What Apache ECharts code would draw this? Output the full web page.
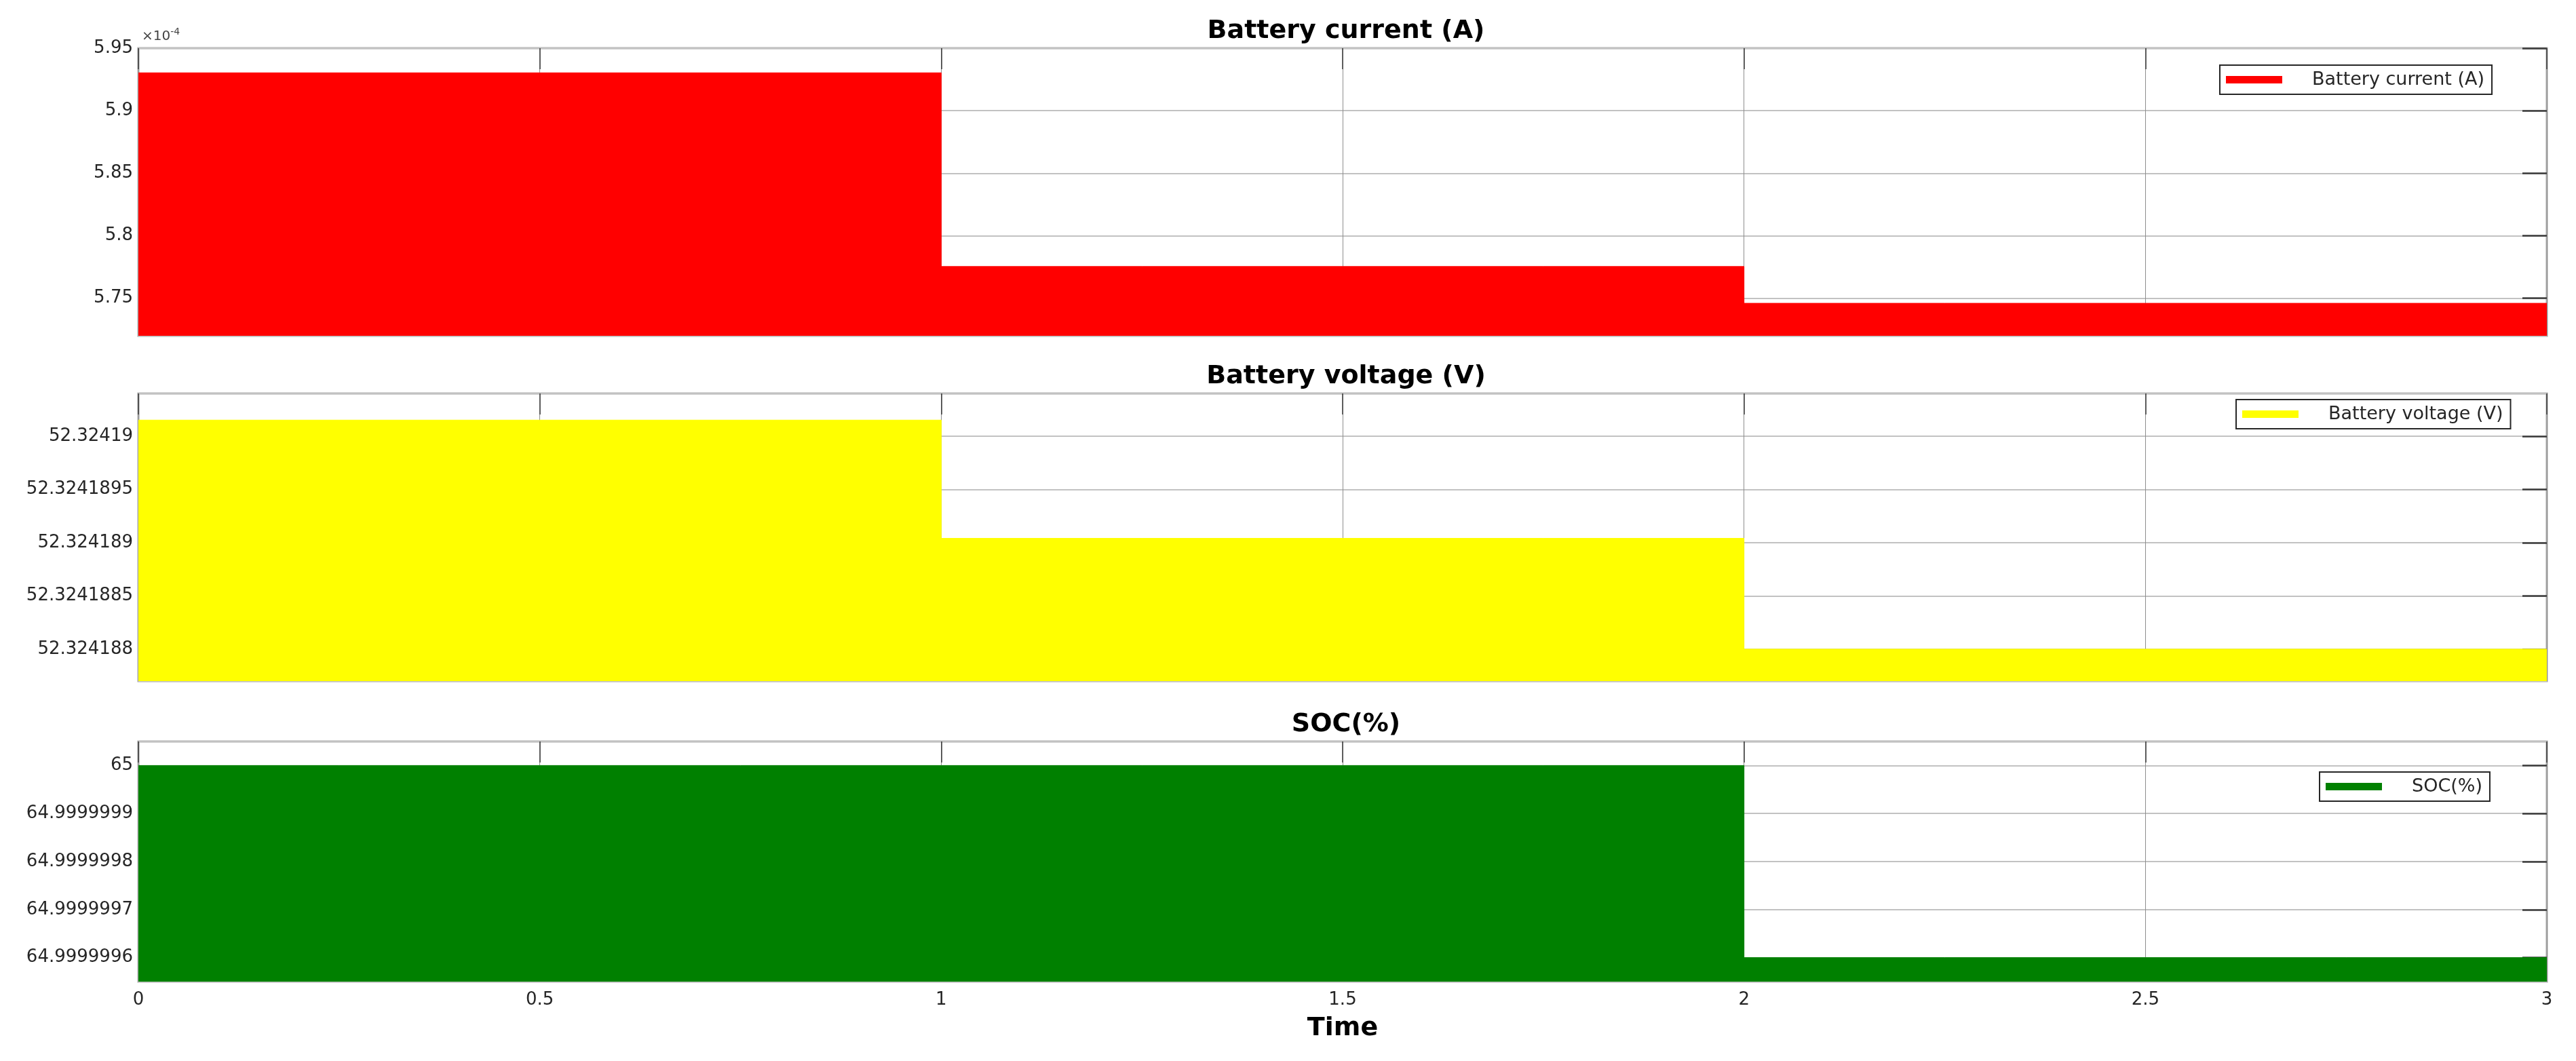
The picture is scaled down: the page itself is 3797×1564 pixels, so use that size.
<!DOCTYPE html>
<html><head><meta charset="utf-8">
<script src="https://cdn.jsdelivr.net/npm/echarts@6/dist/echarts.min.js"></script>
<style>html,body{margin:0;padding:0;background:#fff}#c{width:3797px;height:1564px}</style>
</head><body><div id="c"></div>
<script>
// ---- data ----
const time = [0, 1, 2, 3];
const currentA = [5.9303e-4, 5.7754e-4, 5.746e-4, 5.746e-4];
const voltageV = [52.32419015, 52.32418904, 52.324188, 52.324188];
const socPct = [65, 65, 64.9999996, 64.9999996];
const seriesNames = ['Battery current (A)', 'Battery voltage (V)', 'SOC(%)'];
const panelTitles = ['Battery current (A)', 'Battery voltage (V)', 'SOC(%)'];
const xRange = [0, 3];
const xStep = 0.5;
const currentRange = [5.72e-4, 5.95e-4];
const voltageRange = [52.3241877, 52.3241904];
const socRange = [64.99999955, 65.00000005];
const currentTicks = [5.75e-4, 5.80e-4, 5.85e-4, 5.90e-4, 5.95e-4];
const voltageTicks = [52.324188, 52.3241885, 52.324189, 52.3241895, 52.32419];
const socTicks = [64.9999996, 64.9999997, 64.9999998, 64.9999999, 65];
const xAxisName = 'Time';
const currentExponent = '×10{s|-4}';

// ---- chart ----
const FONT = 'DejaVu Sans';
const colors = ['#ff0000', '#ffff00', '#008000'];
const ranges = [currentRange, voltageRange, socRange];
const tickSets = [currentTicks, voltageTicks, socTicks];
const values = [currentA, voltageV, socPct];
const gridTops = [71, 580, 1093];
const gridHeights = [424, 424, 354];

function strip(s) { return s.indexOf('.') >= 0 ? s.replace(/0+$/, '').replace(/\.$/, '') : s; }
function makeFormatter(i) {
  const ticks = tickSets[i];
  const span = ranges[i][1] - ranges[i][0];
  return function (v) {
    const ok = ticks.some(t => Math.abs(t - v) < span * 1e-4);
    if (!ok) return '';
    if (i === 0) return strip((v * 1e4).toFixed(2));
    return strip(v.toFixed(7));
  };
}

const grids = [], xAxes = [], yAxes = [], series = [], titles = [], legends = [];
for (let i = 0; i < 3; i++) {
  grids.push({ left: 204, right: 43, top: gridTops[i], height: gridHeights[i], show: true,
    borderColor: '#a8a8a8', borderWidth: 3, backgroundColor: 'transparent' });
  titles.push({ text: panelTitles[i], left: 1979, textAlign: 'center',
    top: gridTops[i] - 49,
    textStyle: { fontFamily: FONT, fontWeight: 'bold', fontSize: 38, color: '#000' } });
}
for (let i = 0; i < 3; i++) {
  xAxes.push({
    type: 'value', gridIndex: i, position: 'bottom', min: xRange[0], max: xRange[1], interval: xStep,
    axisLine: { show: false, onZero: false }, axisTick: { show: false },
    axisLabel: { show: i === 2, fontFamily: FONT, fontSize: 26, color: '#262626', margin: 14,
      formatter: v => String(v) },
    splitLine: { show: true, lineStyle: { color: '#8e8e8e', width: 1 } },
    name: i === 2 ? xAxisName : '', nameLocation: 'middle', nameGap: 50,
    nameTextStyle: { fontFamily: FONT, fontWeight: 'bold', fontSize: 38, color: '#000' }
  });
}
for (let i = 0; i < 3; i++) {
  xAxes.push({
    type: 'value', gridIndex: i, position: 'top', min: xRange[0], max: xRange[1], interval: xStep,
    axisLine: { show: false, onZero: false },
    axisTick: { show: true, inside: true, length: 31, lineStyle: { color: '#3a3a3a', width: 1.5 } },
    axisLabel: { show: false }, splitLine: { show: false }
  });
}
for (let i = 0; i < 3; i++) {
  yAxes.push({
    type: 'value', gridIndex: i, position: 'left', min: ranges[i][0], max: ranges[i][1], splitNumber: 5,
    scale: true,
    axisLine: { show: false, onZero: false }, axisTick: { show: false },
    axisLabel: { fontFamily: FONT, fontSize: 26, color: '#262626', margin: 8, formatter: makeFormatter(i),
      showMinLabel: true, showMaxLabel: true, hideOverlap: false },
    splitLine: { show: true, lineStyle: { color: '#c2c2c2', width: 2 } },
    name: i === 0 ? currentExponent : '', nameLocation: 'end', nameGap: 3,
    nameTextStyle: { fontFamily: FONT, fontSize: 20, color: '#444', align: 'left', verticalAlign: 'bottom',
      padding: [0, 0, 0, 5], lineHeight: 28,
      rich: { s: { fontFamily: FONT, fontSize: 14, color: '#444', verticalAlign: 'top', lineHeight: 16 } } }
  });
}
for (let i = 0; i < 3; i++) {
  yAxes.push({
    type: 'value', gridIndex: i, position: 'right', min: ranges[i][0], max: ranges[i][1], splitNumber: 5,
    scale: true,
    axisLine: { show: false, onZero: false },
    axisTick: { show: true, inside: true, length: 36, customValues: tickSets[i],
      lineStyle: { color: '#3a3a3a', width: 2.5 } },
    axisLabel: { show: false }, splitLine: { show: false }
  });
}
const legendPos = [{ left: 3272, top: 96 }, { left: 3296, top: 589 }, { left: 3419, top: 1138 }];
for (let i = 0; i < 3; i++) {
  series.push({
    name: seriesNames[i], type: 'line', xAxisIndex: i, yAxisIndex: i, step: 'end',
    symbol: 'none', silent: true, animation: false,
    data: time.map((t, k) => [t, values[i][k]]),
    color: colors[i],
    lineStyle: { color: colors[i], width: 1 },
    itemStyle: { color: colors[i] },
    areaStyle: { color: colors[i], opacity: 1, origin: 'start' }
  });
  legends.push({
    data: [seriesNames[i]], left: legendPos[i].left, top: legendPos[i].top, orient: 'horizontal',
    icon: 'rect', itemWidth: 83, itemHeight: 11, selectedMode: false,
    borderColor: '#262626', borderWidth: 2, backgroundColor: '#fff', borderRadius: 0,
    padding: [8, 11, 8, 9],
    formatter: name => '{g|}' + name,
    textStyle: { fontFamily: FONT, fontSize: 27, color: '#262626', rich: { g: { width: 39 } } }
  });
}

const chart = echarts.init(document.getElementById('c'), null, { renderer: 'canvas' });
chart.setOption({
  backgroundColor: '#ffffff',
  animation: false,
  title: titles,
  grid: grids,
  xAxis: xAxes,
  yAxis: yAxes,
  legend: legends,
  series: series
});
</script></body></html>
